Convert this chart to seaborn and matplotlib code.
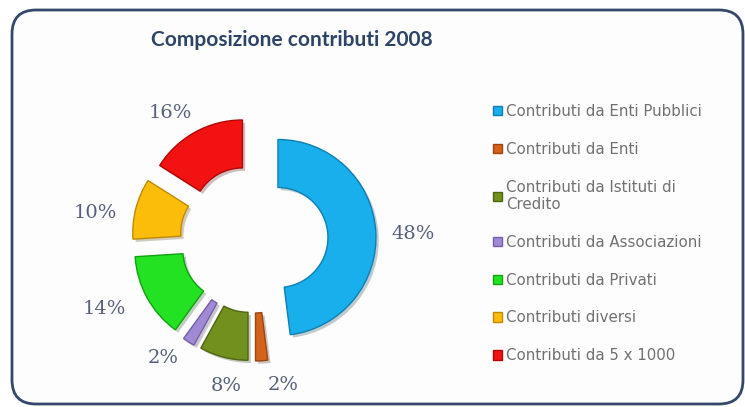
import matplotlib
matplotlib.use("Agg")
import matplotlib.pyplot as plt
import matplotlib.patheffects as pe
from matplotlib.patches import FancyBboxPatch
import seaborn as sns

# data
categories = [
    "Contributi da Enti Pubblici",
    "Contributi da Enti",
    "Contributi da Istituti di\nCredito",
    "Contributi da Associazioni",
    "Contributi da Privati",
    "Contributi diversi",
    "Contributi da 5 x 1000",
]
shares = [48, 2, 8, 2, 14, 10, 16]
colors = ["#19aeec", "#d2621c", "#71901e", "#a08ad4", "#22e222", "#fbbd0a", "#f21212"]
edges = ["#0f7fb0", "#9a4512", "#4f6512", "#7560a8", "#14a014", "#c08a00", "#b00808"]
title = "Composizione contributi 2008"

sns.set_theme(style="white")

W, H = 745, 407
fig = plt.figure(figsize=(W / 100, H / 100), dpi=100)
fig.patch.set_facecolor("white")
ax = fig.add_axes([0, 0, 1, 1])

# rounded frame
frame = FancyBboxPatch((12, 3), 731, 394, boxstyle="round,pad=0,rounding_size=24",
                       facecolor="#fdfdfd", edgecolor="#34486a", linewidth=2, zorder=0)
ax.add_patch(frame)

wedges, texts, autotexts = ax.pie(
    shares,
    colors=colors,
    startangle=90,
    counterclock=False,
    center=(254, 168),
    radius=98,
    explode=[24] * len(shares),
    autopct="%1.0f%%",
    pctdistance=1.32,
    wedgeprops=dict(width=48, linewidth=1),
    textprops=dict(color="#56607a", fontsize=14, family="DejaVu Serif"),
)
for w, ec in zip(wedges, edges):
    w.set_edgecolor(ec)
    w.set_path_effects([pe.SimplePatchShadow(offset=(2, -2), alpha=0.25), pe.Normal()])
    w.set_zorder(2)

# nudge labels the way the original places them
nudges = [(6, -5), (20, 7), (10, 2), (-9, 10), (-15, 4), (-10, -12), (-10, -8)]
for t, (dx, dy) in zip(autotexts, nudges):
    x, y = t.get_position()
    t.set_position((x + dx, y + dy))

ax.set_xlim(0, W)
ax.set_ylim(0, H)
ax.set_aspect("equal")
ax.axis("off")

ax.text(292, 367, title, ha="center", va="center", fontsize=15, fontweight="bold",
        family="Lato", color="#2e4466")

leg = ax.legend(wedges, categories, loc="upper left",
                bbox_to_anchor=(493 / W, (H - 104) / H), frameon=False,
                borderpad=0, borderaxespad=0, handlelength=0.6, handleheight=0.6,
                handletextpad=0.3, labelspacing=1.52, fontsize=10.8)
for t in leg.get_texts():
    t.set_color("#707070")
for h in leg.legend_handles:
    h.set_path_effects([])

fig.savefig("out.png", dpi=100)
